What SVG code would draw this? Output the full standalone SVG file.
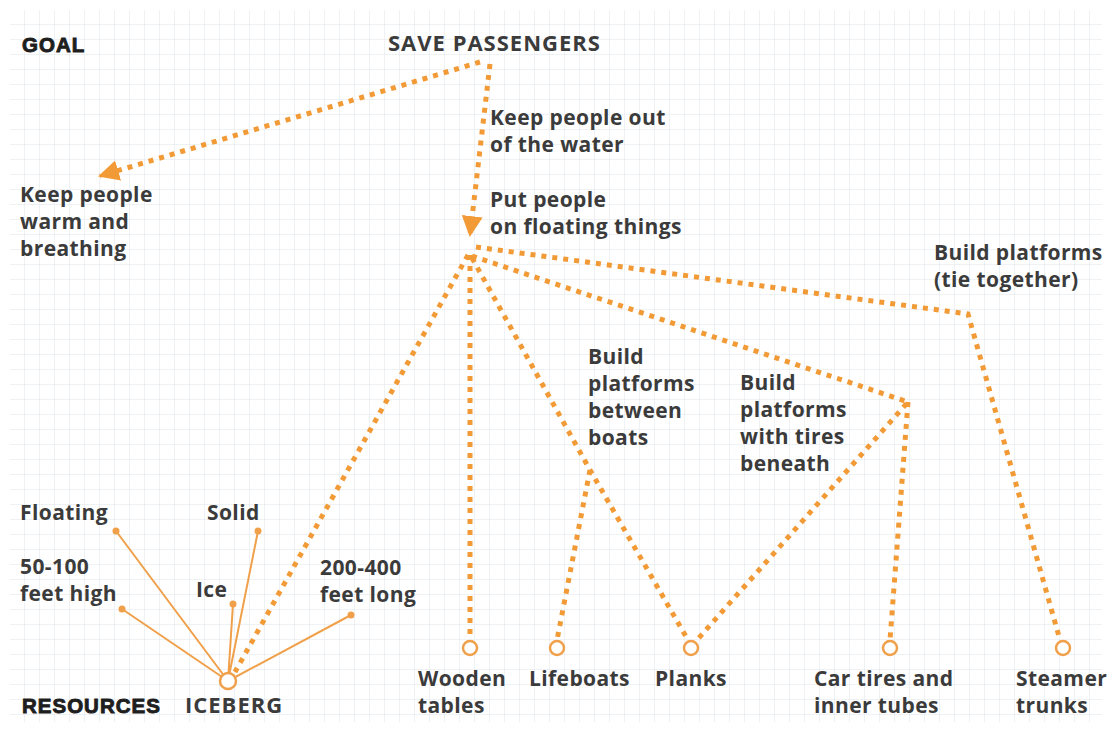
<svg xmlns="http://www.w3.org/2000/svg" width="1111" height="731" viewBox="0 0 1111 731">
<defs>
<pattern id="grid" x="10" y="10" width="15" height="15" patternUnits="userSpaceOnUse">
<path d="M15 0V15M0 15H15" fill="none" stroke="#dfe4ea" stroke-width="1"/>
</pattern>
<marker id="arr" viewBox="0 0 10 10" refX="9" refY="5" markerWidth="4.2" markerHeight="4.2" markerUnits="strokeWidth" orient="auto">
<path d="M0 0L10 5L0 10z" fill="#f29a36"/>
</marker>
<style>
.t{font-family:"Open Sans","Liberation Sans",sans-serif;font-weight:700;font-size:21px;letter-spacing:0.4px;fill:#3b3b3b}
.cap{font-size:22px;letter-spacing:1px}
.h{font-family:"Liberation Sans",Arial,sans-serif;font-weight:900;font-size:20.5px;letter-spacing:1px;fill:#1e1e1e;stroke:#1e1e1e;stroke-width:0.9}
.d{fill:none;stroke:#f29a36;stroke-width:5;stroke-dasharray:5 6}
.s{fill:none;stroke:#f0a04a;stroke-width:2}
.c{fill:#fff;stroke:#f0a04a;stroke-width:2.5}
.p{fill:#f0a04a}
</style>
</defs>
<rect width="1111" height="731" fill="#fff"/>
<rect x="10" y="10" width="1092" height="712" fill="url(#grid)"/>
<g id="connectors">
<path class="d" d="M480 62L100 176" marker-end="url(#arr)"/>
<path class="d" d="M490 64L470 235" marker-end="url(#arr)"/>
<path class="d" d="M468 255L235 672"/>
<path class="d" d="M470 255L470 638"/>
<path class="d" d="M472 258L590 470L688 640"/>
<path class="d" d="M590 470L557 640"/>
<path class="d" d="M472 256L908 402L697 640"/>
<path class="d" d="M908 402L890 640"/>
<path class="d" d="M476 247L968 314L1060 640"/>
<path class="s" d="M228 681L116 531M228 681L258 531M228 681L122 609M228 681L233 604M228 681L351 615"/>
</g>
<g id="goal"><text class="h" x="22" y="52">GOAL</text></g>
<g id="save"><text class="t cap" x="388" y="51">SAVE PASSENGERS</text></g>
<g id="warm"><text class="t" x="20" y="202">Keep people</text><text class="t" x="20" y="229">warm and</text><text class="t" x="20" y="256">breathing</text></g>
<g id="outwater"><text class="t" x="490" y="125">Keep people out</text><text class="t" x="490" y="152">of the water</text></g>
<g id="floating-things"><text class="t" x="490" y="207">Put people</text><text class="t" x="490" y="234">on floating things</text></g>
<g id="tie"><text class="t" x="934" y="260">Build platforms</text><text class="t" x="934" y="287">(tie together)</text></g>
<g id="between"><text class="t" x="588" y="364">Build</text><text class="t" x="588" y="391">platforms</text><text class="t" x="588" y="418">between</text><text class="t" x="588" y="445">boats</text></g>
<g id="tires"><text class="t" x="740" y="390">Build</text><text class="t" x="740" y="417">platforms</text><text class="t" x="740" y="444">with tires</text><text class="t" x="740" y="471">beneath</text></g>
<g id="floating"><text class="t" x="20" y="520">Floating</text><circle class="p" cx="116" cy="531" r="3.5"/></g>
<g id="solid"><text class="t" x="207" y="520">Solid</text><circle class="p" cx="258" cy="531" r="3.5"/></g>
<g id="high"><text class="t" x="20" y="574">50-100</text><text class="t" x="20" y="601">feet high</text><circle class="p" cx="122" cy="609" r="3.5"/></g>
<g id="ice"><text class="t" x="196" y="597">Ice</text><circle class="p" cx="233" cy="604" r="3.5"/></g>
<g id="long"><text class="t" x="320" y="575">200-400</text><text class="t" x="320" y="602">feet long</text><circle class="p" cx="351" cy="615" r="3.5"/></g>
<g id="resources"><text class="h" x="22" y="713">RESOURCES</text></g>
<g id="iceberg"><circle class="c" cx="228" cy="681" r="8"/><text class="t cap" x="185" y="713">ICEBERG</text></g>
<g id="wooden"><circle class="c" cx="470" cy="648" r="7"/><text class="t" x="418" y="686">Wooden</text><text class="t" x="418" y="713">tables</text></g>
<g id="lifeboats"><circle class="c" cx="557" cy="648" r="7"/><text class="t" x="529" y="686">Lifeboats</text></g>
<g id="planks"><circle class="c" cx="691" cy="648" r="7"/><text class="t" x="655" y="686">Planks</text></g>
<g id="cartires"><circle class="c" cx="890" cy="648" r="7"/><text class="t" x="814" y="686">Car tires and</text><text class="t" x="814" y="713">inner tubes</text></g>
<g id="steamer"><circle class="c" cx="1063" cy="648" r="7"/><text class="t" x="1016" y="686">Steamer</text><text class="t" x="1016" y="713">trunks</text></g>
</svg>
